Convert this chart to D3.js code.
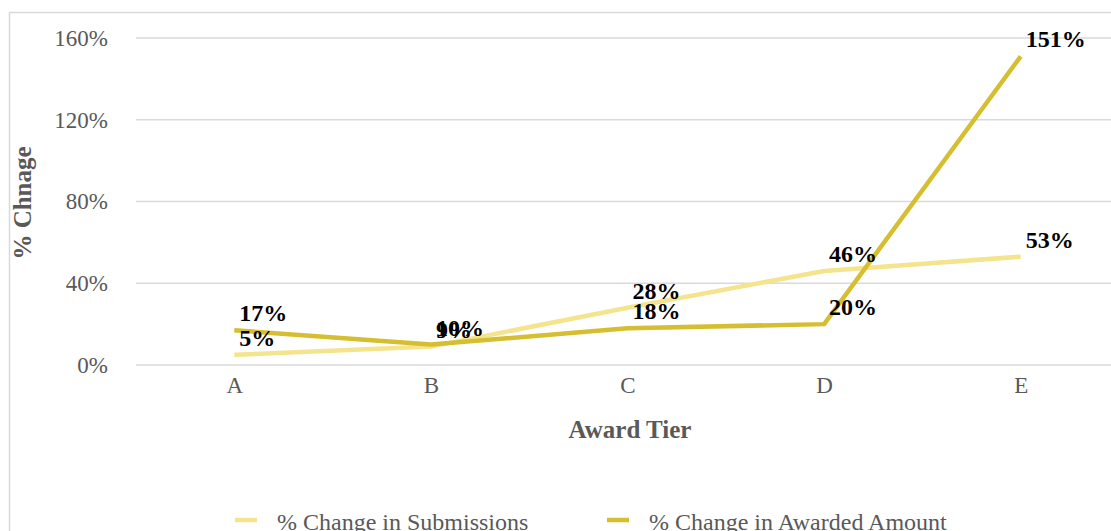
<!DOCTYPE html>
<html>
<head>
<meta charset="utf-8">
<script src="https://cdn.jsdelivr.net/npm/d3@7"></script>
<style>
  body { margin: 0; background: #fff; }
  svg { display: block; font-family: "Liberation Serif", "Times New Roman", serif; }
</style>
</head>
<body>
<svg id="chart"></svg>
<script>
// data
const tiers = ["A", "B", "C", "D", "E"];
const submissions = [5, 9, 28, 46, 53];
const awarded = [17, 10, 18, 20, 151];
const yTicks = [0, 40, 80, 120, 160];
const seriesNames = ["% Change in Submissions", "% Change in Awarded Amount"];
const seriesColors = ["#f5e48e", "#d5bf31"];

const W = 1111, H = 531;
const margin = { top: 38, left: 136, right: -8 };
const w = W - margin.left - margin.right;
const h = 365 - margin.top;

const svg = d3.select("#chart").attr("width", W).attr("height", H);

// outer chart border
svg.append("rect")
    .attr("x", 9.5).attr("y", 12.5)
    .attr("width", W).attr("height", H)
    .style("fill", "none").style("stroke", "#d9d9d9").style("stroke-width", 1.5);

const g = svg.append("g").attr("transform", "translate(" + margin.left + "," + margin.top + ")");

const xScale = d3.scalePoint().domain(tiers).range([0, w]).padding(0.5);
const yScale = d3.scaleLinear().domain([0, 160]).range([h, 0]);

// gridlines
g.selectAll(".grid").data(yTicks).enter().append("line")
    .attr("x1", 0).attr("x2", w)
    .attr("y1", d => yScale(d)).attr("y2", d => yScale(d))
    .style("stroke", "#d9d9d9").style("stroke-width", 1.5);

// y axis labels
const yAxis = d3.axisLeft(yScale).tickValues(yTicks).tickSize(0).tickPadding(28).tickFormat(d => d + "%");
const gY = g.append("g").call(yAxis);
gY.select(".domain").remove();
gY.selectAll("text").style("font-size", "23px").style("fill", "#595959").style("font-family", "Liberation Serif");

// x axis labels
const xAxis = d3.axisBottom(xScale).tickSize(0).tickPadding(12);
const gX = g.append("g").attr("transform", "translate(0," + h + ")").call(xAxis);
gX.select(".domain").remove();
gX.selectAll("text").style("font-size", "23px").style("fill", "#595959").style("font-family", "Liberation Serif");

// axis titles
svg.append("text")
    .attr("x", 630).attr("y", 438)
    .attr("text-anchor", "middle")
    .style("font-size", "25px").style("font-weight", "bold").style("fill", "#595959")
    .text("Award Tier");

svg.append("text")
    .attr("transform", "translate(31,203) rotate(-90)")
    .attr("text-anchor", "middle")
    .style("font-size", "25px").style("font-weight", "bold").style("fill", "#595959")
    .text("% Chnage");

// lines
const line = d3.line().x((d, i) => xScale(tiers[i])).y(d => yScale(d));
[submissions, awarded].forEach((vals, k) => {
    g.append("path")
        .datum(vals)
        .attr("d", line)
        .style("fill", "none")
        .style("stroke", seriesColors[k])
        .style("stroke-width", 4.5)
        .style("stroke-linejoin", "round");
});

// data labels
[submissions, awarded].forEach((vals) => {
    g.selectAll(null).data(vals).enter().append("text")
        .attr("x", (d, i) => xScale(tiers[i]) + 5)
        .attr("y", d => yScale(d) - 9)
        .style("font-size", "24px").style("font-weight", "bold").style("fill", "#000")
        .text(d => d + "%");
});

// legend
const legendX = [235, 607];
seriesNames.forEach((name, k) => {
    svg.append("line")
        .attr("x1", legendX[k]).attr("x2", legendX[k] + 22)
        .attr("y1", 520).attr("y2", 520)
        .style("stroke", seriesColors[k]).style("stroke-width", 4.5);
    svg.append("text")
        .attr("x", legendX[k] + 42).attr("y", 530)
        .style("font-size", "24px").style("fill", "#595959")
        .text(name);
});
</script>
</body>
</html>
